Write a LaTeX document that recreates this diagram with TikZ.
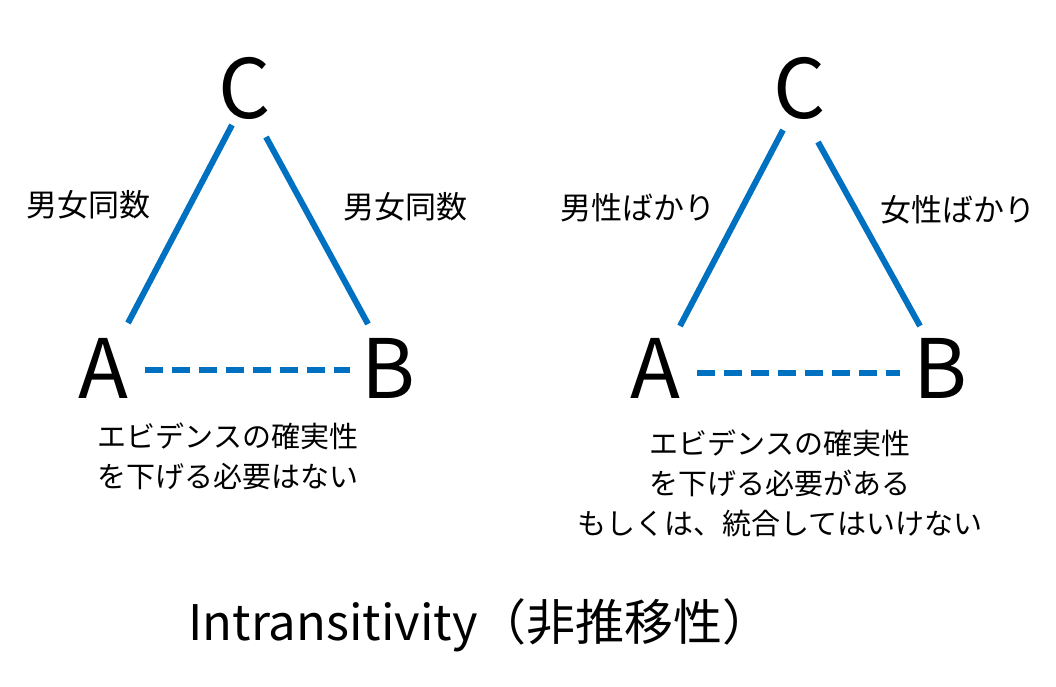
\documentclass[tikz,border=0pt]{standalone}
\usepackage{fontspec}
\setmainfont{Noto Sans CJK JP}
\begin{document}
\begin{tikzpicture}[x=1pt,y=-1pt,
  edge/.style={draw={rgb,255:red,0;green,112;blue,192}, line width=6pt},
  dedge/.style={edge, dash pattern=on 18pt off 9pt},
  vtx/.style={font=\fontsize{82}{84}\selectfont, inner sep=0pt},
  lbl/.style={font=\fontsize{31}{34}\selectfont, inner sep=1pt},
  note/.style={font=\fontsize{29}{40}\selectfont, align=center, inner sep=0pt}]
\useasboundingbox (0,0) rectangle (1056,687);
% left triangle
\node[vtx] (C1) at (245,88) {C};
\node[vtx] (A1) at (103,368) {A};
\node[vtx] (B1) at (388,368) {B};
\coordinate (c1a) at (232,125); \coordinate (a1c) at (128,323);
\coordinate (c1b) at (266,137); \coordinate (b1c) at (368,324);
\coordinate (a1b) at (145,370); \coordinate (b1a) at (350,370);
\draw[edge] (c1a) -- (a1c);
\draw[edge] (c1b) -- (b1c);
\draw[dedge] (a1b) -- (b1a);
\node[lbl] (l1) at (88,205) {男女同数};
\node[lbl] (r1) at (405,207) {男女同数};
\node[note] (n1) at (228,456) {エビデンスの確実性\\を下げる必要はない};
% right triangle
\node[vtx] (C2) at (800,88) {C};
\node[vtx] (A2) at (655,368) {A};
\node[vtx] (B2) at (940,368) {B};
\coordinate (c2a) at (783,130); \coordinate (a2c) at (680,326);
\coordinate (c2b) at (818,142); \coordinate (b2c) at (920,326);
\coordinate (a2b) at (697,373); \coordinate (b2a) at (900,373);
\draw[edge] (c2a) -- (a2c);
\draw[edge] (c2b) -- (b2c);
\draw[dedge] (a2b) -- (b2a);
\node[lbl, fill=white] (l2) at (638,208) {男性ばかり};
\node[lbl, fill=white] (r2) at (958,210) {女性ばかり};
\node[note] (n2) at (780,483) {エビデンスの確実性\\を下げる必要がある\\もしくは、統合してはいけない};
\node[font=\fontsize{49}{52}\selectfont] (t) at (480,625) {Intransitivity（非推移性）};
\end{tikzpicture}
\end{document}
